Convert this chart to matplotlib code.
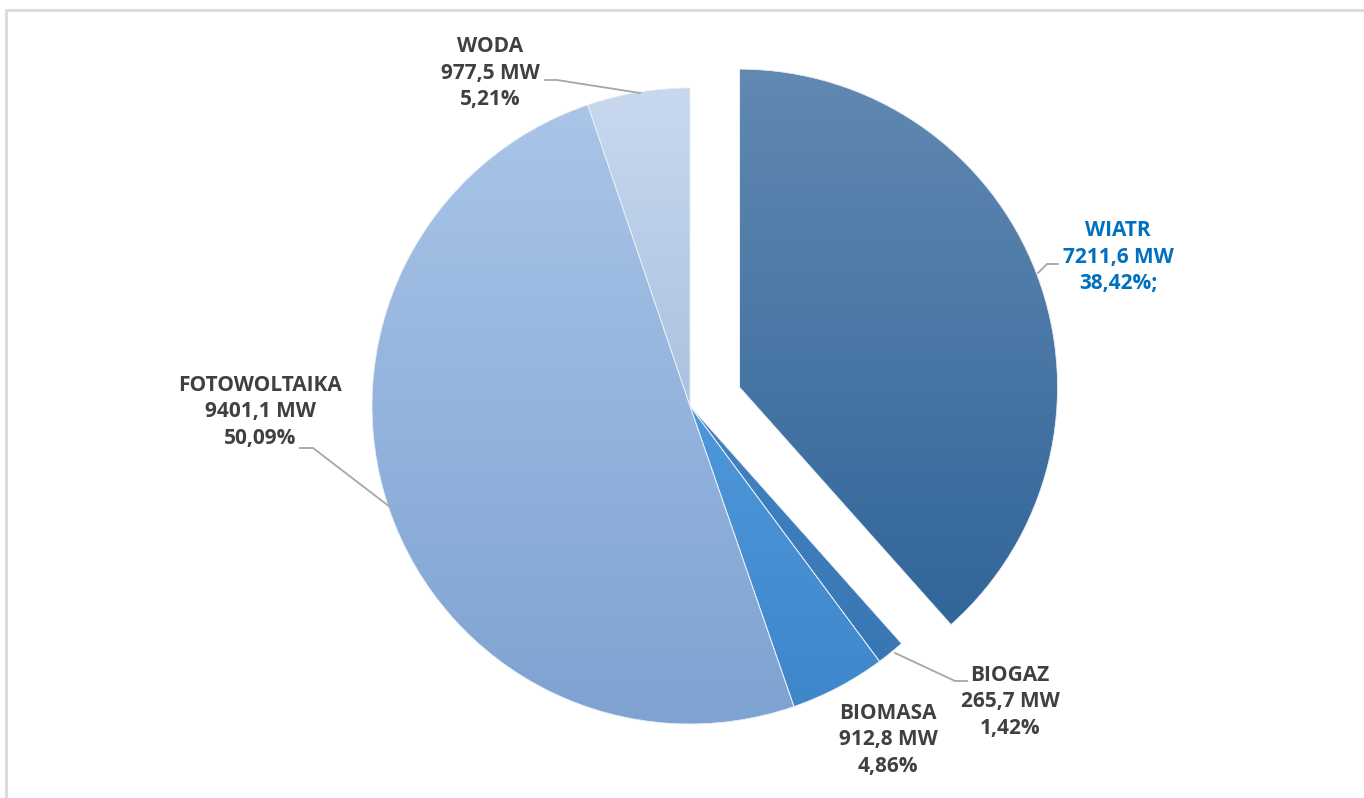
import numpy as np
import matplotlib.pyplot as plt
from matplotlib.colors import LinearSegmentedColormap

# Dane: moc zainstalowana OZE
kategorie = ['WIATR', 'BIOGAZ', 'BIOMASA', 'FOTOWOLTAIKA', 'WODA']
moc_mw = [7211.6, 265.7, 912.8, 9401.1, 977.5]
udzial = [38.42, 1.42, 4.86, 50.09, 5.21]

# gradient (gora, dol) dla kazdego wycinka
kolory = [('#6189B1', '#32659A'),
          ('#4383C2', '#3877B4'),
          ('#4E97DA', '#3F87CB'),
          ('#A9C5E8', '#7EA2D1'),
          ('#C8D8EE', '#ABC2E0')]

fig = plt.figure(figsize=(13.64, 7.98), dpi=100)
ax = fig.add_axes([0, 0, 1, 1])

cx, cy, r = 690, 392, 318
wedges, _ = ax.pie(udzial, radius=r, center=(cx, cy), startangle=90,
                   counterclock=False, explode=[53, 0, 0, 0, 0],
                   wedgeprops=dict(linewidth=0.6, edgecolor='#E8EEF6'),
                   frame=True)
ax.set_xlim(0, 1364)
ax.set_ylim(0, 798)
ax.axis('off')

# wypelnienie gradientem
for w, (gora, dol) in zip(wedges, kolory):
    w.set_facecolor('none')
    x0, y0, x1, y1 = w.get_path().get_extents(w.get_patch_transform()).extents
    cmap = LinearSegmentedColormap.from_list('g', [dol, gora])
    grad = np.linspace(0, 1, 256).reshape(-1, 1)
    im = ax.imshow(grad, cmap=cmap, origin='lower', aspect='auto',
                   extent=(x0, x1, y0, y1), zorder=1)
    im.set_clip_path(w)
    w.set_zorder(2)

# ramka
ax.plot([6, 6, 1364], [0, 788, 788], color='#D9D9D9', lw=2, zorder=0)

# etykiety
szary = '#404040'
niebieski = '#0070C0'
pozycje = {'WIATR': (1118, 257), 'BIOGAZ': (1010, 702), 'BIOMASA': (888, 740),
           'FOTOWOLTAIKA': (260, 412), 'WODA': (490, 73)}
for kat, mw, pr in zip(kategorie, moc_mw, udzial):
    txt = f"{kat}\n{mw:.1f} MW\n{pr:.2f}%".replace('.', ',')
    if kat == 'WIATR':
        txt += ';'
    px, py = pozycje[kat]
    ax.text(px, 798 - py, txt, ha='center', va='center', fontsize=15,
            fontweight='bold', family='Open Sans', linespacing=1.36,
            color=niebieski if kat == 'WIATR' else szary, zorder=5)

# linie odniesienia
linie = [[(1058, 264), (1047, 264), (1038, 273)],
         [(967, 681), (955, 681), (895, 653)],
         [(300, 448), (313, 448), (390, 507)],
         [(545, 80), (557, 80), (640, 93)]]
for pts in linie:
    xs = [p[0] for p in pts]
    ys = [798 - p[1] for p in pts]
    ax.plot(xs, ys, color='#A6A6A6', lw=1.3, zorder=4)

fig.savefig('out.png', dpi=100)
